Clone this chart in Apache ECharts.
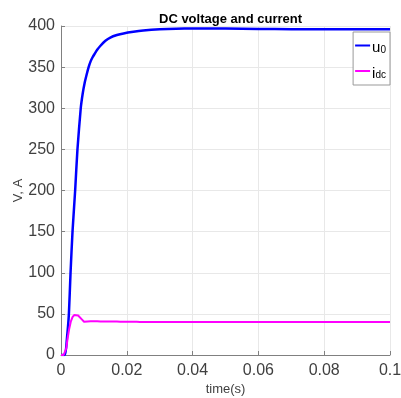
<!DOCTYPE html>
<html>
<head>
<meta charset="utf-8">
<script src="https://cdn.jsdelivr.net/npm/echarts@6/dist/echarts.min.js"></script>
<style>
  html, body { margin: 0; padding: 0; background: #fff; }
  #chart { width: 401px; height: 398px; }
</style>
</head>
<body>
<div id="chart"></div>
<script>
// DC voltage and current

var xTicks = ['0', '0.02', '0.04', '0.06', '0.08', '0.1'];

// u0 (V)
var tU0 = [0, 0.0012, 0.0018, 0.0024, 0.0029, 0.0035, 0.0043, 0.005, 0.006, 0.0066, 0.0072, 0.0078, 0.0084,
    0.009, 0.0096, 0.0102, 0.011, 0.012, 0.0135, 0.015, 0.017, 0.019, 0.022, 0.025, 0.03, 0.035, 0.04,
    0.05, 0.06, 0.07, 0.08, 0.09, 0.1];
var u0 = [0, 0, 20, 50, 100, 150, 200, 250, 300, 318, 331, 341, 350,
    357, 362, 366, 371, 376, 382, 386, 389, 391, 393, 394.5, 396, 396.8, 397,
    397, 396.5, 396, 396, 396, 396];

// idc (A)
var tIdc = [0, 0.0008, 0.0012, 0.0016, 0.002, 0.0025, 0.003, 0.0035, 0.004, 0.0046, 0.0052, 0.0058, 0.0064, 0.007,
    0.0075, 0.008, 0.0085, 0.009, 0.0095, 0.01, 0.0105, 0.011, 0.0115, 0.012, 0.0125, 0.013, 0.0135, 0.014, 0.0145,
    0.015, 0.0155, 0.016, 0.0165, 0.017, 0.0175, 0.018, 0.0185, 0.019, 0.0195, 0.02, 0.0205, 0.021, 0.0215, 0.022,
    0.0225, 0.023, 0.0235, 0.024, 0.0245, 0.025, 0.0255, 0.026, 0.0265, 0.027, 0.0275, 0.028, 0.0285, 0.029, 0.0295,
    0.03, 0.04, 0.05, 0.06, 0.07, 0.08, 0.09, 0.1];
var idc = [0, 0, 2, 8, 20, 32, 41, 46, 48.5, 49, 48, 46, 43, 40.5,
    39.6, 40.8, 39.4, 41, 39.5, 40.9, 39.5, 41, 39.6, 40.8, 39.6, 40.8, 39.7, 40.7, 39.7,
    40.7, 39.8, 40.6, 39.8, 40.6, 39.8, 40.5, 39.9, 40.5, 39.9, 40.4, 39.9, 40.4, 40, 40.3,
    40, 40.3, 40, 40.2, 40, 40.2, 40.1, 40.2, 40.1, 40.1, 40, 40.1, 40, 40.1, 40,
    40, 40, 40, 40, 40, 40, 40, 40];

function pairs(t, v) {
    return t.map(function (x, i) { return [x, v[i]]; });
}

var font = 'Liberation Sans, Arial, sans-serif';

var option = {
    backgroundColor: '#fff',
    animation: false,
    title: {
        text: 'DC voltage and current',
        left: 225.5,
        textAlign: 'center',
        top: 8,
        textStyle: { fontFamily: font, fontSize: 13, fontWeight: 'bold', color: '#000' }
    },
    grid: { left: 61, right: 11, top: 26, bottom: 43, containLabel: false, outerBoundsMode: 'none' },
    legend: {
        orient: 'vertical',
        right: 11,
        top: 32,
        backgroundColor: '#fff',
        borderColor: '#999',
        borderWidth: 1,
        borderRadius: 0,
        padding: [4, 4, 4, 2],
        itemGap: 6,
        itemWidth: 15,
        itemHeight: 2,
        icon: 'rect',
        data: ['u0', 'idc'],
        formatter: function (name) {
            return name === 'u0' ? '{m|u}{s|0}' : '{m|i}{s|dc}';
        },
        textStyle: {
            fontFamily: font,
            color: '#000',
            padding: [0, 0, 0, -3],
            rich: {
                m: { fontFamily: font, fontSize: 15, color: '#000', verticalAlign: 'bottom', lineHeight: 20 },
                s: { fontFamily: font, fontSize: 10, color: '#000', padding: [9, 0, 0, 0], lineHeight: 20 }
            }
        }
    },
    xAxis: {
        type: 'value',
        min: 0,
        max: 0.1,
        interval: 0.02,
        name: 'time(s)',
        nameLocation: 'middle',
        nameGap: 28,
        nameMoveOverlap: false,
        nameTextStyle: { fontFamily: font, fontSize: 13, color: '#404040' },
        axisLine: { show: true, lineStyle: { color: '#808080', width: 1 } },
        axisTick: { show: true, inside: true, length: 4, lineStyle: { color: '#808080' } },
        axisLabel: {
            fontFamily: font, fontSize: 16, color: '#404040', margin: 8,
            formatter: function (v) { return xTicks[Math.round(v / 0.02)]; }
        },
        splitLine: { show: true, lineStyle: { color: '#e8e8e8', width: 1 } }
    },
    yAxis: {
        type: 'value',
        min: 0,
        max: 400,
        interval: 50,
        name: 'V, A',
        nameLocation: 'middle',
        nameGap: 36,
        nameMoveOverlap: false,
        nameTextStyle: { fontFamily: font, fontSize: 13, color: '#404040' },
        axisLine: { show: true, lineStyle: { color: '#808080', width: 1 } },
        axisTick: { show: true, inside: true, length: 4, lineStyle: { color: '#808080' } },
        axisLabel: { fontFamily: font, fontSize: 16, color: '#404040', margin: 6 },
        splitLine: { show: true, lineStyle: { color: '#e8e8e8', width: 1 } }
    },
    series: [{
        name: 'u0',
        type: 'line',
        showSymbol: false,
        smooth: 0.2,
        color: '#0000ff',
        lineStyle: { color: '#0000ff', width: 2.5 },
        data: pairs(tU0, u0)
    }, {
        name: 'idc',
        type: 'line',
        showSymbol: false,
        color: '#ff00ff',
        lineStyle: { color: '#ff00ff', width: 2 },
        data: pairs(tIdc, idc)
    }]
};

var myChart = echarts.init(document.getElementById('chart'), null, { renderer: 'canvas' });
myChart.setOption(option);
</script>
</body>
</html>
